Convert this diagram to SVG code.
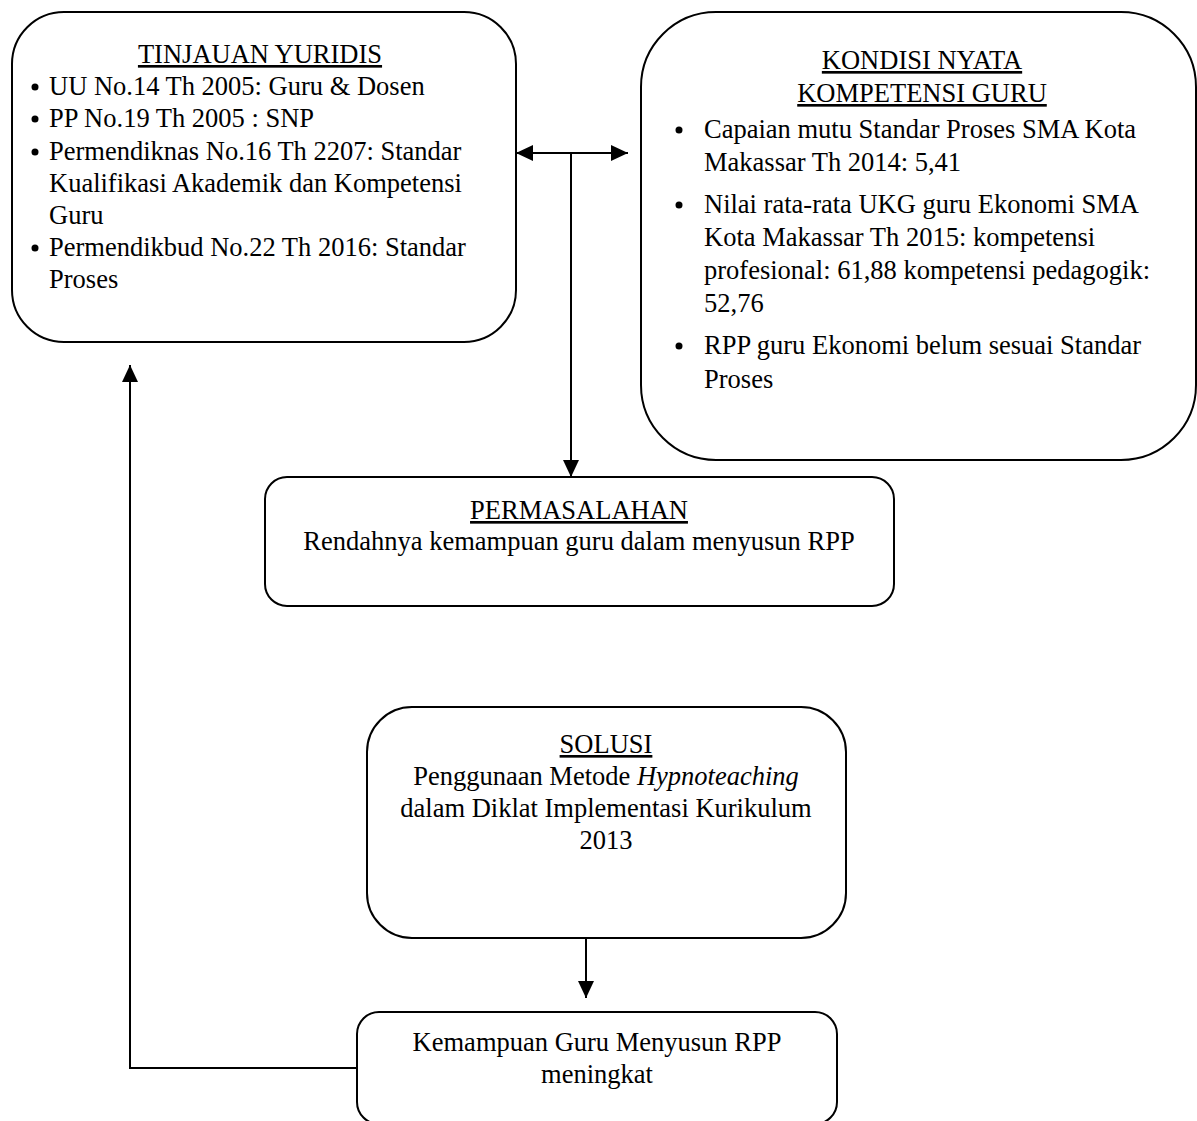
<svg xmlns="http://www.w3.org/2000/svg" width="1197" height="1121" viewBox="0 0 1197 1121">
<style>
.box{fill:#fff;stroke:#000;stroke-width:2}
.t{font-family:"Liberation Serif","Times New Roman",serif;font-size:26.5px;fill:#000}
.c{text-anchor:middle}
.u{text-decoration:underline}
.ln{fill:none;stroke:#000;stroke-width:2}
.b{fill:#000}
</style>
<defs>
<marker id="ah" viewBox="0 0 17 16" refX="17" refY="8" markerWidth="17" markerHeight="16" markerUnits="userSpaceOnUse" orient="auto-start-reverse">
<path d="M0,0 L17,8 L0,16 Z" fill="#000"/>
</marker>
</defs>
<rect width="1197" height="1121" fill="#fff"/>
<g id="connectors">
<line class="ln" x1="516" y1="153" x2="628" y2="153" marker-start="url(#ah)" marker-end="url(#ah)"/>
<line class="ln" x1="571" y1="153" x2="571" y2="477" marker-end="url(#ah)"/>
<line class="ln" x1="586" y1="938" x2="586" y2="998" marker-end="url(#ah)"/>
<polyline class="ln" points="357,1068 130,1068 130,365" marker-end="url(#ah)"/>
</g>
<g id="tinjauan">
<rect class="box" x="12" y="12" width="504" height="330" rx="52"/>
<text class="t c u" x="260" y="63">TINJAUAN YURIDIS</text>
<circle class="b" cx="35" cy="87" r="3.5"/>
<text class="t" x="49" y="95">UU No.14 Th 2005: Guru &amp; Dosen</text>
<circle class="b" cx="35" cy="119" r="3.5"/>
<text class="t" x="49" y="127">PP No.19 Th 2005 : SNP</text>
<circle class="b" cx="35" cy="152" r="3.5"/>
<text class="t" x="49" y="160">Permendiknas No.16 Th 2207: Standar</text>
<text class="t" x="49" y="192">Kualifikasi Akademik dan Kompetensi</text>
<text class="t" x="49" y="224">Guru</text>
<circle class="b" cx="35" cy="248" r="3.5"/>
<text class="t" x="49" y="256">Permendikbud No.22 Th 2016: Standar</text>
<text class="t" x="49" y="288">Proses</text>
</g>
<g id="kondisi">
<rect class="box" x="641" y="12" width="555" height="448" rx="75"/>
<text class="t c u" x="922" y="69">KONDISI NYATA</text>
<text class="t c u" x="922" y="102">KOMPETENSI GURU</text>
<circle class="b" cx="679" cy="130" r="3.5"/>
<text class="t" x="704" y="138">Capaian mutu Standar Proses SMA Kota</text>
<text class="t" x="704" y="171">Makassar Th 2014: 5,41</text>
<circle class="b" cx="679" cy="205" r="3.5"/>
<text class="t" x="704" y="213">Nilai rata-rata UKG guru Ekonomi SMA</text>
<text class="t" x="704" y="246">Kota Makassar Th 2015: kompetensi</text>
<text class="t" x="704" y="279">profesional: 61,88 kompetensi pedagogik:</text>
<text class="t" x="704" y="312">52,76</text>
<circle class="b" cx="679" cy="346" r="3.5"/>
<text class="t" x="704" y="354">RPP guru Ekonomi belum sesuai Standar</text>
<text class="t" x="704" y="388">Proses</text>
</g>
<g id="permasalahan">
<rect class="box" x="265" y="477" width="629" height="129" rx="22"/>
<text class="t c u" x="579" y="519">PERMASALAHAN</text>
<text class="t c" x="579" y="550">Rendahnya kemampuan guru dalam menyusun RPP</text>
</g>
<g id="solusi">
<rect class="box" x="367" y="707" width="479" height="231" rx="45"/>
<text class="t c u" x="606" y="753">SOLUSI</text>
<text class="t c" x="606" y="785">Penggunaan Metode <tspan font-style="italic">Hypnoteaching</tspan></text>
<text class="t c" x="606" y="817">dalam Diklat Implementasi Kurikulum</text>
<text class="t c" x="606" y="849">2013</text>
</g>
<g id="hasil">
<rect class="box" x="357" y="1012" width="480" height="112" rx="22"/>
<text class="t c" x="597" y="1051">Kemampuan Guru Menyusun RPP</text>
<text class="t c" x="597" y="1083">meningkat</text>
</g>
</svg>
